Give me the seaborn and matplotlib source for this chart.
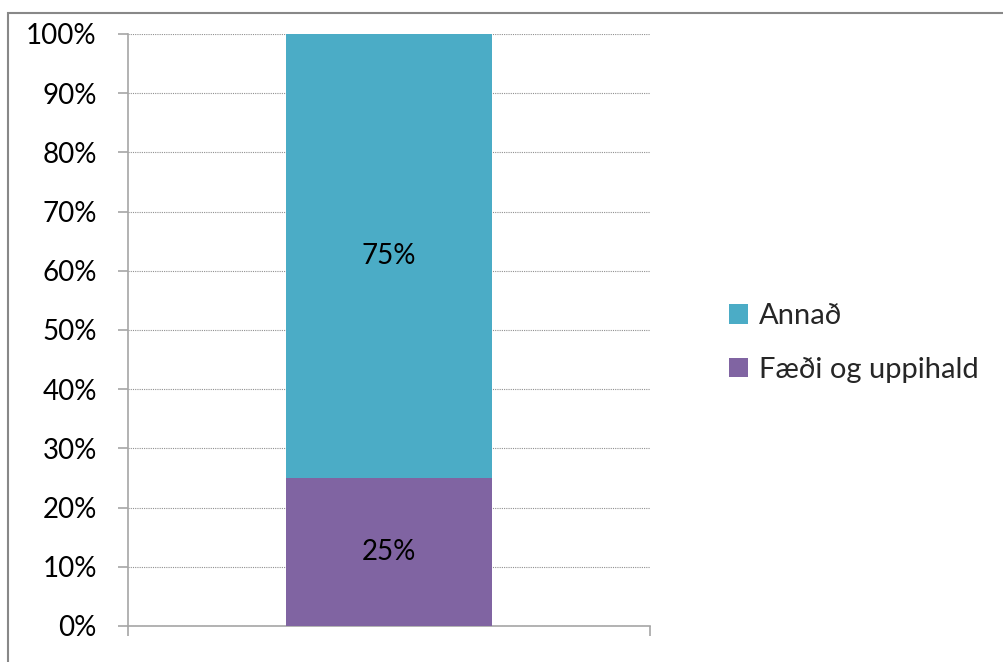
import matplotlib
matplotlib.use("Agg")
import matplotlib.pyplot as plt
import seaborn as sns
import pandas as pd
from matplotlib.patches import Patch, Rectangle

categories = [""]
faedi = [25]
annad = [75]
series_names = ["Annað", "Fæði og uppihald"]
colors = {"Annað": "#4BACC6", "Fæði og uppihald": "#8064A2"}
yticks = [0, 10, 20, 30, 40, 50, 60, 70, 80, 90, 100]

sns.set_theme(style="white")
plt.rcParams['font.family'] = ['Lato', 'DejaVu Sans']

FS = 20

fig = plt.figure(figsize=(10.04, 6.62), dpi=100)
ax = fig.add_axes([128/1004, 1-626/662, 522/1004, (626-34)/662])

df = pd.DataFrame({"cat": categories, "faedi": faedi, "annad": annad})
sns.barplot(data=df, x="cat", y="faedi", color=colors["Fæði og uppihald"],
            width=0.393, saturation=1, ax=ax, zorder=3, edgecolor="none")
sns.barplot(data=df, x="cat", y="annad", bottom=df["faedi"], color=colors["Annað"],
            width=0.393, saturation=1, ax=ax, zorder=3, edgecolor="none")

ax.set_xlim(-0.5, 0.5)
ax.set_ylim(0, 100)
ax.set_yticks(yticks)
ax.set_yticklabels([f"{v}%" for v in yticks], fontsize=FS)
ax.set_xticks([-0.5, 0.5])
ax.set_xticklabels(["", ""])
ax.set_xlabel("")
ax.set_ylabel("")
ax.yaxis.grid(True, linestyle=(0, (1, 1)), color="#909090", linewidth=0.8, zorder=0)
ax.xaxis.grid(False)
for s in ["top", "right"]:
    ax.spines[s].set_visible(False)
for s in ["left", "bottom"]:
    ax.spines[s].set_color("#a6a6a6")
    ax.spines[s].set_linewidth(1.2)
ax.tick_params(axis="both", direction="out", length=7.5, width=1.2, color="#a6a6a6",
               left=True, bottom=True, labelcolor="black")
ax.tick_params(axis="y", pad=15)

for i in range(len(categories)):
    ax.text(i, faedi[i] / 2, f"{faedi[i]}%", ha="center", va="center", fontsize=FS, color="black", zorder=4)
    ax.text(i, faedi[i] + annad[i] / 2, f"{annad[i]}%", ha="center", va="center", fontsize=FS, color="black", zorder=4)

handles = [Patch(facecolor=colors[n], edgecolor="none") for n in series_names]
fig.legend(handles, series_names, loc="center left", bbox_to_anchor=(717/1004, 1-343/662),
           frameon=False, fontsize=FS + 1, handlelength=0.65, handleheight=0.65,
           handletextpad=0.4, labelspacing=0.95, borderaxespad=0)

fig.add_artist(Rectangle((8/1004, -0.1), 1.2, (1-13/662) + 0.1, transform=fig.transFigure,
                         fill=False, edgecolor="#888888", linewidth=1.5))

fig.savefig("out.png", dpi=100)
